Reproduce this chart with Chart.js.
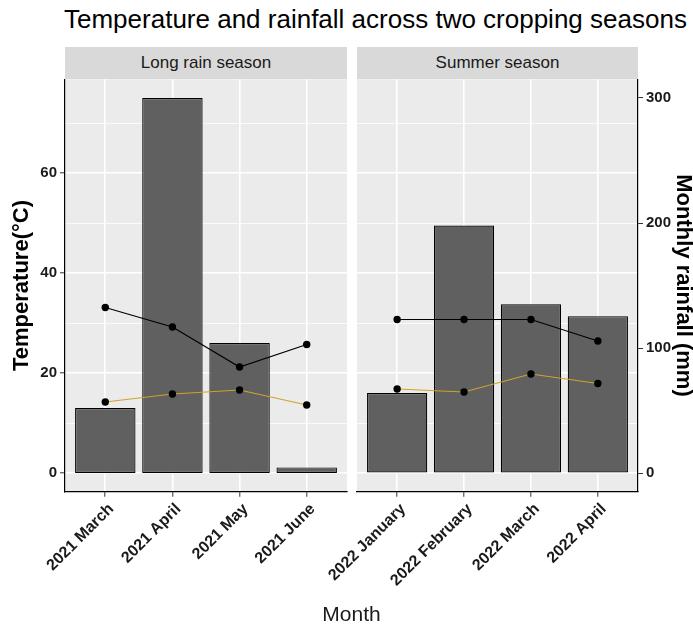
<!DOCTYPE html>
<html>
<head>
<meta charset="utf-8">
<script src="https://cdn.jsdelivr.net/npm/chart.js@4/dist/chart.umd.min.js"></script>
<style>
  html, body { margin: 0; padding: 0; background: #ffffff; }
  #fig { position: relative; width: 693px; height: 631px; overflow: hidden;
         font-family: "Liberation Sans", Arial, sans-serif; }
  #fig canvas { position: absolute; top: 0; }
  #title { position: absolute; left: 64px; top: 4px; font-size: 26px; line-height: 30px;
           white-space: nowrap; color: #000; }
  .strip { position: absolute; top: 47px; height: 32px; line-height: 32px; background: #D9D9D9;
           color: #1A1A1A; font-size: 17px; text-align: center; }
  #xtitle { position: absolute; left: 65px; width: 573px; top: 602px; text-align: center;
            font-size: 21px; line-height: 24px; color: #1A1A1A; }
</style>
</head>
<body>
<div id="fig">
  <div id="title">Temperature and rainfall across two cropping seasons</div>
  <div class="strip" style="left:65px;width:282px">Long rain season</div>
  <div class="strip" style="left:357px;width:281px">Summer season</div>
  <canvas id="longRain" width="352" height="631" style="left:0"></canvas>
  <canvas id="summer" width="433" height="631" style="left:260px"></canvas>
  <div id="xtitle">Month</div>
</div>
<script>
// Months of each cropping season
const longRainMonths = ['2021 March', '2021 April', '2021 May', '2021 June'];
const summerMonths = ['2022 January', '2022 February', '2022 March', '2022 April'];

// Monthly rainfall (mm)
const longRainRainfall = [52, 300, 104, 4.5];
const summerRainfall = [64, 198, 135, 125.5];

// Maximum and minimum temperature (°C)
const longRainMaxTemp = [33.1, 29.2, 21.2, 25.7];
const longRainMinTemp = [14.2, 15.8, 16.6, 13.6];
const summerMaxTemp = [30.7, 30.7, 30.7, 26.4];
const summerMinTemp = [16.8, 16.2, 19.8, 17.9];

// Axis ticks
const tempTicks = [0, 20, 40, 60];
const rainTicks = [0, 100, 200, 300];

// Rainfall axis is a rescaled temperature axis: 1 °C ↔ 4 mm
const MM_PER_DEGREE = 4;
const TEMP_MIN = -3.75, TEMP_MAX = 78.75;

const FONT = '"Liberation Sans", Arial, sans-serif';
const BG = '#EBEBEB';
const BAR_FILL = '#606060';
const MAX_COLOR = '#000000';
const MIN_COLOR = '#D0A22E';

const panelBackground = {
  id: 'panelBackground',
  beforeDraw(chart) {
    const { ctx, chartArea: a } = chart;
    ctx.save();
    ctx.fillStyle = BG;
    ctx.fillRect(a.left, a.top, a.right - a.left, a.bottom - a.top);
    ctx.restore();
  }
};

const isMajorTemp = v => tempTicks.includes(v);
const toPoints = vals => vals.map((v, i) => ({ x: i, y: v }));

function makePanel(canvasId, months, rain, tMax, tMin, side) {
  const left = side === 'left';
  const tempScale = {
    type: 'linear', position: 'left', min: TEMP_MIN, max: TEMP_MAX,
    afterFit: s => { s.width = left ? 65 : 0; },
    ticks: {
      display: left, stepSize: 10, includeBounds: false, padding: 3,
      color: '#1A1A1A', font: { family: FONT, size: 15, weight: 'bold' },
      callback: v => isMajorTemp(v) ? String(v) : ''
    },
    grid: {
      color: '#FFFFFF',
      lineWidth: c => (c.tick && isMajorTemp(c.tick.value)) ? 1.6 : 0.8,
      drawTicks: left, tickLength: 5, tickWidth: 1,
      tickColor: c => (c.tick && isMajorTemp(c.tick.value)) ? '#333333' : 'rgba(0,0,0,0)'
    },
    border: { display: left, color: '#000000', width: 1.2 },
    title: {
      display: left, text: 'Temperature(°C)', color: '#000000',
      font: { family: FONT, size: 22, weight: 'bold', lineHeight: 1 },
      padding: { top: 11, bottom: 0 }
    }
  };
  const rainScale = {
    type: 'linear', position: 'right', display: !left,
    min: TEMP_MIN * MM_PER_DEGREE, max: TEMP_MAX * MM_PER_DEGREE,
    afterFit: s => { s.width = left ? 0 : 55; },
    ticks: {
      stepSize: 100, includeBounds: false, padding: 3,
      color: '#1A1A1A', font: { family: FONT, size: 15, weight: 'bold' },
      callback: v => rainTicks.includes(v) ? String(v) : ''
    },
    grid: { drawOnChartArea: false, tickLength: 5, tickWidth: 1, tickColor: '#333333' },
    border: { display: true, color: '#000000', width: 1.2 },
    title: {
      display: true, text: 'Monthly rainfall (mm)', color: '#000000',
      font: { family: FONT, size: 22, weight: 'bold', lineHeight: 1 },
      padding: { top: -1, bottom: 0 }
    }
  };
  const xScale = {
    type: 'linear', position: 'bottom', min: -0.6, max: months.length - 0.4,
    offset: false,
    afterFit: s => { s.height = 100; },
    ticks: {
      stepSize: 1, includeBounds: false, autoSkip: false,
      minRotation: 45, maxRotation: 45, padding: 3, labelOffset: 6,
      color: '#1A1A1A', font: { family: FONT, size: 16, weight: 'bold' },
      callback: v => months[v] !== undefined ? months[v] : ''
    },
    grid: { offset: false, color: '#FFFFFF', lineWidth: 1.6, tickLength: 5, tickWidth: 1, tickColor: '#333333' },
    border: { display: true, color: '#000000', width: 1.2 }
  };

  const lineStyle = color => ({
    type: 'line', yAxisID: 'yT', borderColor: color, borderWidth: 1.2,
    pointRadius: 3.7, pointHoverRadius: 3.7, pointBackgroundColor: '#000000',
    pointBorderColor: '#000000', pointBorderWidth: 0, tension: 0, fill: false
  });

  return new Chart(document.getElementById(canvasId), {
    type: 'bar',
    data: {
      datasets: [
        Object.assign(lineStyle(MAX_COLOR), { label: 'Maximum temperature', data: toPoints(tMax), order: 1 }),
        Object.assign(lineStyle(MIN_COLOR), { label: 'Minimum temperature', data: toPoints(tMin), order: 2 }),
        {
          type: 'bar', label: 'Rainfall', yAxisID: 'yR', data: toPoints(rain), order: 3,
          backgroundColor: BAR_FILL, borderColor: '#000000', borderWidth: 1.2,
          categoryPercentage: 1, barPercentage: 0.9, borderSkipped: false
        }
      ]
    },
    options: {
      responsive: false, animation: false, devicePixelRatio: 1,
      layout: { padding: left
        ? { top: 79.25, bottom: 39.25, left: 0, right: 5 }
        : { top: 79.25, bottom: 39.25, left: 97, right: 0 } },
      plugins: { legend: { display: false }, tooltip: { enabled: false } },
      scales: { x: xScale, yT: tempScale, yR: rainScale }
    },
    plugins: [panelBackground]
  });
}

makePanel('longRain', longRainMonths, longRainRainfall, longRainMaxTemp, longRainMinTemp, 'left');
makePanel('summer', summerMonths, summerRainfall, summerMaxTemp, summerMinTemp, 'right');
</script>
</body>
</html>
